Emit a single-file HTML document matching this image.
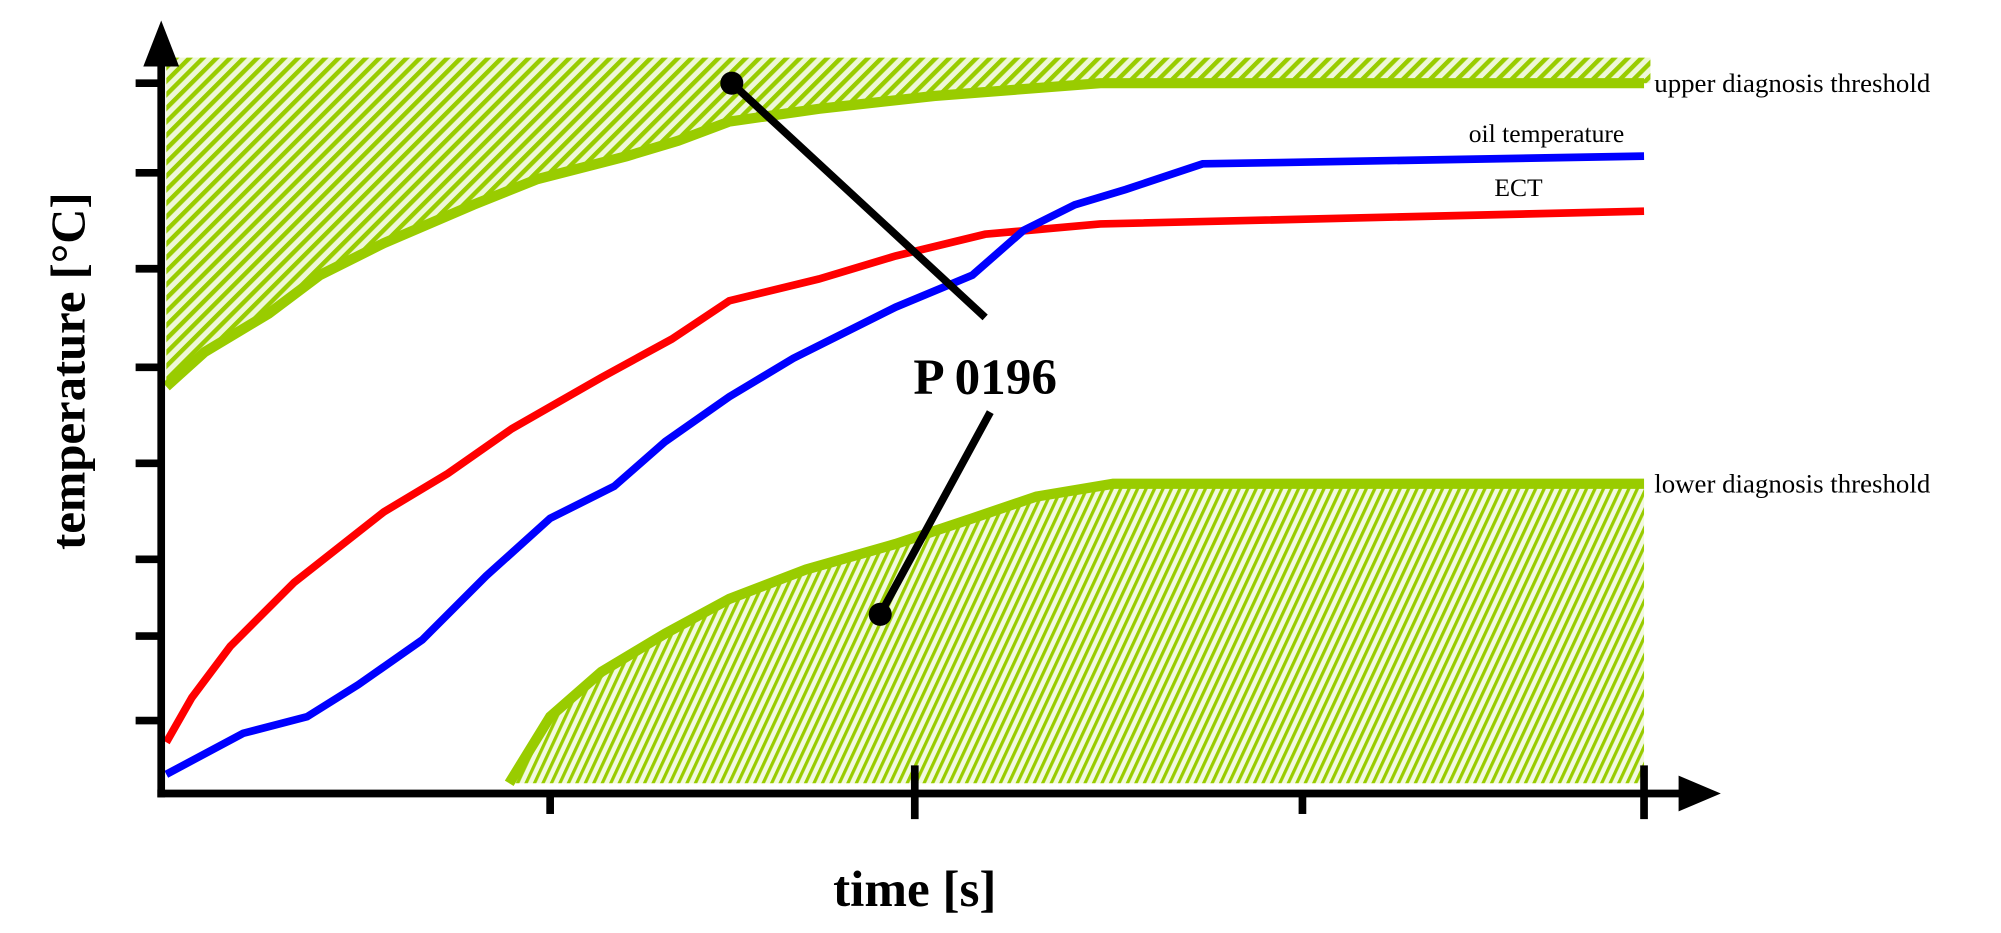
<!DOCTYPE html>
<html><head><meta charset="utf-8"><style>html,body{margin:0;padding:0;background:#fff}svg{display:block}</style></head>
<body>
<svg width="2001" height="933" viewBox="0 0 1564 729" preserveAspectRatio="none" xmlns="http://www.w3.org/2000/svg">
<defs>
<pattern id="h1" width="7.5" height="7.5" patternUnits="userSpaceOnUse" patternTransform="rotate(45)">
<rect width="7.5" height="7.5" fill="#eef7d8"/><rect x="0" y="0" width="3.5" height="7.5" fill="#99cc00"/></pattern>
<pattern id="h2" width="6" height="6" patternUnits="userSpaceOnUse" patternTransform="rotate(25)">
<rect width="6" height="6" fill="#f2f9e0"/><rect x="0" y="0" width="2.5" height="6" fill="#99cc00"/></pattern>
</defs>
<path d="M130,45 L1290,45 L1290,65 L860,65 L730,75 L640,85 L570,95 L530,110 L490,122 L420,140 L370,160 L300,190 L250,215 L210,245 L160,275 L130,302 Z" fill="url(#h1)"/>
<polyline points="130,302 160,275 210,245 250,215 300,190 370,160 420,140 490,122 530,110 570,95 640,85 730,75 860,65 1285,65" fill="none" stroke="#99cc00" stroke-width="8"/>
<path d="M398,612 L430,560 L470,525 L520,495 L570,468 L630,445 L700,425 L760,405 L810,388 L870,378 L1285,378 L1285,612 Z" fill="url(#h2)"/>
<polyline points="398,612 430,560 470,525 520,495 570,468 630,445 700,425 760,405 810,388 870,378 1285,378" fill="none" stroke="#99cc00" stroke-width="8"/>
<polyline points="130,580 150,545 180,505 230,455 300,400 350,370 400,335 470,295 525,265 570,235 640,218 700,200 770,183 860,175 1285,165" fill="none" stroke="#ff0000" stroke-width="6"/>
<polyline points="130,605 190,573 240,560 280,535 330,500 380,450 430,405 480,380 520,345 570,310 620,280 700,240 760,215 800,180 840,160 880,148 940,128 1000,127 1285,122" fill="none" stroke="#0000ff" stroke-width="6"/>
<line x1="572" y1="65" x2="770" y2="248" stroke="#000" stroke-width="6"/>
<circle cx="572" cy="65" r="9" fill="#000"/>
<line x1="774" y1="322" x2="688" y2="480" stroke="#000" stroke-width="6"/>
<circle cx="688" cy="480" r="9" fill="#000"/>
<g stroke="#000" stroke-width="6">
<line x1="126" y1="40" x2="126" y2="623"/>
<line x1="123" y1="620" x2="1320" y2="620"/>
<line x1="106" y1="65" x2="126" y2="65"/><line x1="106" y1="135" x2="126" y2="135"/>
<line x1="106" y1="210" x2="126" y2="210"/><line x1="106" y1="287" x2="126" y2="287"/>
<line x1="106" y1="362" x2="126" y2="362"/><line x1="106" y1="437" x2="126" y2="437"/>
<line x1="106" y1="497" x2="126" y2="497"/><line x1="106" y1="563" x2="126" y2="563"/>
<line x1="430" y1="620" x2="430" y2="636"/><line x1="715" y1="598" x2="715" y2="640"/>
<line x1="1018" y1="620" x2="1018" y2="636"/><line x1="1285" y1="598" x2="1285" y2="640"/>
</g>
<polygon points="126,16 112,52 140,52" fill="#000"/>
<polygon points="1345,620 1312,606 1312,634" fill="#000"/>
<g font-family="Liberation Serif, serif" fill="#000">
<text x="1293" y="72" font-size="21">upper diagnosis threshold</text>
<text x="1148" y="111" font-size="20">oil temperature</text>
<text x="1168" y="153" font-size="20">ECT</text>
<text x="1293" y="385" font-size="21">lower diagnosis threshold</text>
<text x="770" y="308" font-size="40" font-weight="bold" text-anchor="middle">P 0196</text>
<text x="715" y="708" font-size="40" font-weight="bold" text-anchor="middle">time [s]</text>
<text transform="translate(66,290) rotate(-90)" font-size="38" font-weight="bold" text-anchor="middle">temperature [°C]</text>
</g>
</svg>
</body></html>
